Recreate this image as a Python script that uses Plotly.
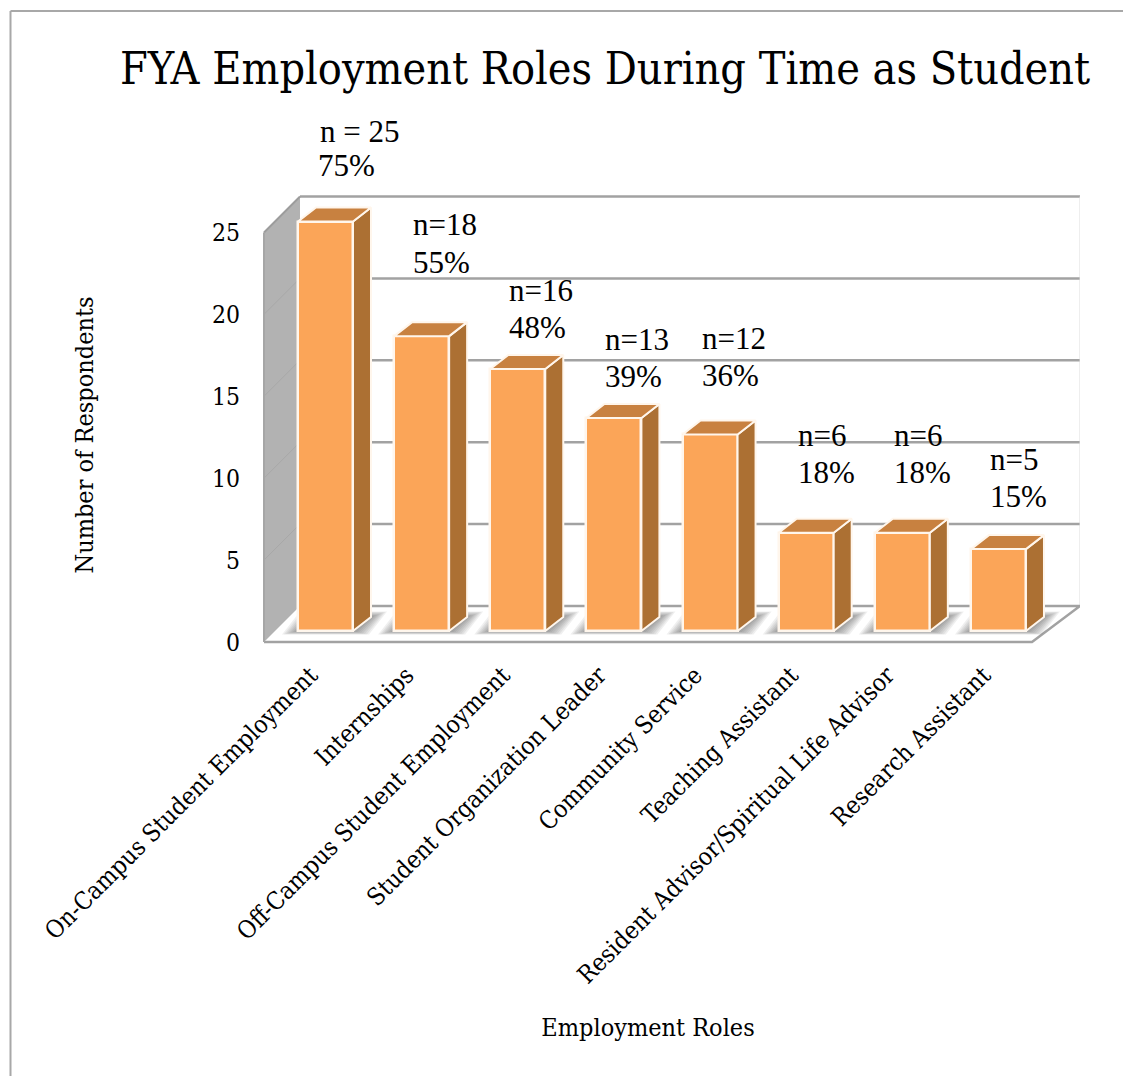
import plotly.graph_objects as go

# ---- data ----
categories = ["On-Campus Student Employment", "Internships", "Off-Campus Student Employment",
              "Student Organization Leader", "Community Service", "Teaching Assistant",
              "Resident Advisor/Spiritual Life Advisor", "Research Assistant"]
respondents = [25, 18, 16, 13, 12, 6, 6, 5]
n_labels = ["n = 25", "n=18", "n=16", "n=13", "n=12", "n=6", "n=6", "n=5"]
pct_labels = ["75%", "55%", "48%", "39%", "36%", "18%", "18%", "15%"]
y_ticks = [0, 5, 10, 15, 20, 25]

# ---- label placement (pixels relative to bar top-left corner) ----
n_label_shift = [(20, 90), (17, 112), (17, 78), (17, 79), (17, 96), (17, 97), (17, 97), (17, 90)]
pct_label_shift = [(18, 56), (17, 74), (17, 41), (17, 42), (17, 59), (17, 60), (17, 60), (17, 53)]

# ---- geometry calibration ----
W, H = 1123, 1076
TOP, BOTTOM = 190, 680
LEFT, RIGHT = 216, 1080
UNIT = 16.38          # px per respondent
STEP = 96.14          # px per category
FIRST_CENTER = 325.5
Y0_FRONT, Y0_BAR = 642, 631
BAR_W = 55 / STEP
SIDE_DX, SIDE_DY = 18 / STEP, 14 / UNIT
BACK_DY = 36 / UNIT
MAXV = 25
TICK_LABEL_SHIFT = -15 / STEP

def xu(px):
    return (px - FIRST_CENTER) / STEP

FACE, SIDE, CAP = "#FBA558", "#AC7033", "#C88140"
WALL, EDGE = "#B2B2B2", "#A2A2A2"
OUTLINE = "#FFF6EC"
SERIF = "DejaVu Serif Condensed, Liberation Serif, serif"
TIMES = "Liberation Serif, serif"

x_wall_front, x_wall_back = xu(264), xu(300)
x_floor_right_front, x_right = xu(1032), xu(1080)

fig = go.Figure()

def poly(xs, ys, fill, yaxis="y", line_color=None, line_width=0):
    fig.add_trace(go.Scatter(
        x=xs, y=ys, mode="lines", fill="toself", fillcolor=fill, yaxis=yaxis,
        line=dict(color=line_color or fill, width=line_width),
        hoverinfo="skip", showlegend=False))

def line(xs, ys, color=EDGE, width=2.5):
    fig.add_trace(go.Scatter(x=xs, y=ys, mode="lines", line=dict(color=color, width=width),
                             hoverinfo="skip", showlegend=False))

# back wall grid (back plane sits BACK_DY above the front plane)
for v in y_ticks[1:]:
    line([x_wall_back, x_right], [v + BACK_DY, v + BACK_DY])
line([x_right, x_right], [BACK_DY, MAXV + BACK_DY], color="#DCDCDC", width=1)

# floor
poly([x_wall_front, x_floor_right_front, x_right, x_wall_back, x_wall_front],
     [0, 0, BACK_DY, BACK_DY, 0], "#FFFFFF")
line([x_wall_back, x_right, x_floor_right_front, x_wall_front], [BACK_DY, BACK_DY, 0, 0])

# side wall
poly([x_wall_front, x_wall_back, x_wall_back, x_wall_front, x_wall_front],
     [MAXV, MAXV + BACK_DY, BACK_DY, 0, MAXV], WALL)
line([x_wall_front, x_wall_back], [MAXV, MAXV + BACK_DY], color="#9C9C9C", width=2)
for v in y_ticks[1:-1]:
    line([x_wall_front, x_wall_back], [v, v + BACK_DY], color="#A8A8A8", width=1)
line([x_wall_front, x_wall_front], [0, MAXV], color="#A6A6A6", width=2)

# soft floor shadows (front-plane units: bar base is lifted above front edge)
lift = (Y0_FRONT - Y0_BAR) / UNIT
for i in range(len(categories)):
    for k in range(1, 9):
        ex = 2.0 * k / STEP
        ey_b, ey_t = 0.45 * k / UNIT, 0.7 * k / UNIT
        x0, x1 = i - BAR_W / 2 - ex, i + BAR_W / 2 + ex
        poly([x0, x1, x1 + SIDE_DX, x0 + SIDE_DX, x0],
             [lift - ey_b, lift - ey_b, lift + SIDE_DY + ey_t, lift + SIDE_DY + ey_t, lift - ey_b],
             "rgba(70,70,70,0.085)")

# bars: real bar trace on the bar plane axis
fig.add_trace(go.Bar(x=list(range(len(categories))), y=respondents, width=BAR_W, yaxis="y2",
                     marker=dict(color=FACE, line=dict(color=OUTLINE, width=2.5)),
                     hovertext=categories, showlegend=False))

# bar side and cap faces derived from the values
for i, v in enumerate(respondents):
    xr, xl = i + BAR_W / 2, i - BAR_W / 2
    poly([xr, xr + SIDE_DX, xr + SIDE_DX, xr, xr], [0, SIDE_DY, v + SIDE_DY, v, 0],
         SIDE, yaxis="y2", line_color=OUTLINE, line_width=2)
    poly([xl, xr, xr + SIDE_DX, xl + SIDE_DX, xl], [v, v, v + SIDE_DY, v + SIDE_DY, v],
         CAP, yaxis="y2", line_color=OUTLINE, line_width=2)

annotations = []
for i, v in enumerate(respondents):
    for text, (sx, sy) in ((n_labels[i], n_label_shift[i]), (pct_labels[i], pct_label_shift[i])):
        annotations.append(dict(x=i - BAR_W / 2, y=v, xref="x", yref="y2", text=text,
                                xanchor="left", yanchor="middle", showarrow=False,
                                xshift=sx, yshift=sy,
                                font=dict(family=TIMES, size=31, color="#000000")))

tick_font = dict(family=SERIF, size=24.5, color="#000000")
fig.update_layout(
    width=W, height=H, autosize=False,
    margin=dict(l=0, r=0, t=0, b=0, autoexpand=False),
    paper_bgcolor="#FFFFFF", plot_bgcolor="rgba(0,0,0,0)",
    bargap=0, showlegend=False,
    title=dict(text="FYA Employment Roles During Time as Student",
               x=605 / W, xref="paper", xanchor="center",
               y=1 - 68 / H, yref="paper", yanchor="middle",
               font=dict(family=SERIF, size=44.5, color="#000000")),
    xaxis=dict(domain=[LEFT / W, RIGHT / W], range=[xu(LEFT), xu(RIGHT)],
               anchor="free", position=1 - 655 / H,
               tickmode="array", tickvals=[i + TICK_LABEL_SHIFT for i in range(len(categories))],
               ticktext=categories,
               tickangle=-45, tickfont=tick_font, showgrid=False, zeroline=False, showline=False,
               ticks="", automargin=False,
               title=dict(text="Employment Roles", font=dict(family=SERIF, size=25, color="#000000"), standoff=30)),
    yaxis=dict(domain=[1 - BOTTOM / H, 1 - TOP / H],
               range=[(Y0_FRONT - BOTTOM) / UNIT, (Y0_FRONT - TOP) / UNIT],
               anchor="free", position=264 / W,
               tickmode="array", tickvals=y_ticks, tickfont=tick_font,
               showgrid=False, zeroline=False, showline=False, ticks="", ticklabelstandoff=24,
               automargin=False,
               title=dict(text="Number of Respondents", font=dict(family=SERIF, size=25, color="#000000"), standoff=110)),
    yaxis2=dict(overlaying="y", anchor="free", position=264 / W,
                range=[(Y0_BAR - BOTTOM) / UNIT, (Y0_BAR - TOP) / UNIT],
                showgrid=False, zeroline=False, showticklabels=False, ticks=""),
    annotations=annotations,
    shapes=[dict(type="line", xref="paper", yref="paper", x0=10.5 / W, x1=1, y0=1 - 11 / H, y1=1 - 11 / H,
                 line=dict(color="#A8A8A8", width=2)),
            dict(type="line", xref="paper", yref="paper", x0=10.5 / W, x1=10.5 / W, y0=0, y1=1 - 11 / H,
                 line=dict(color="#A8A8A8", width=2))],
)

fig.write_html("out.html", config={"displayModeBar": False},
               post_script="document.body.style.margin='0';")
